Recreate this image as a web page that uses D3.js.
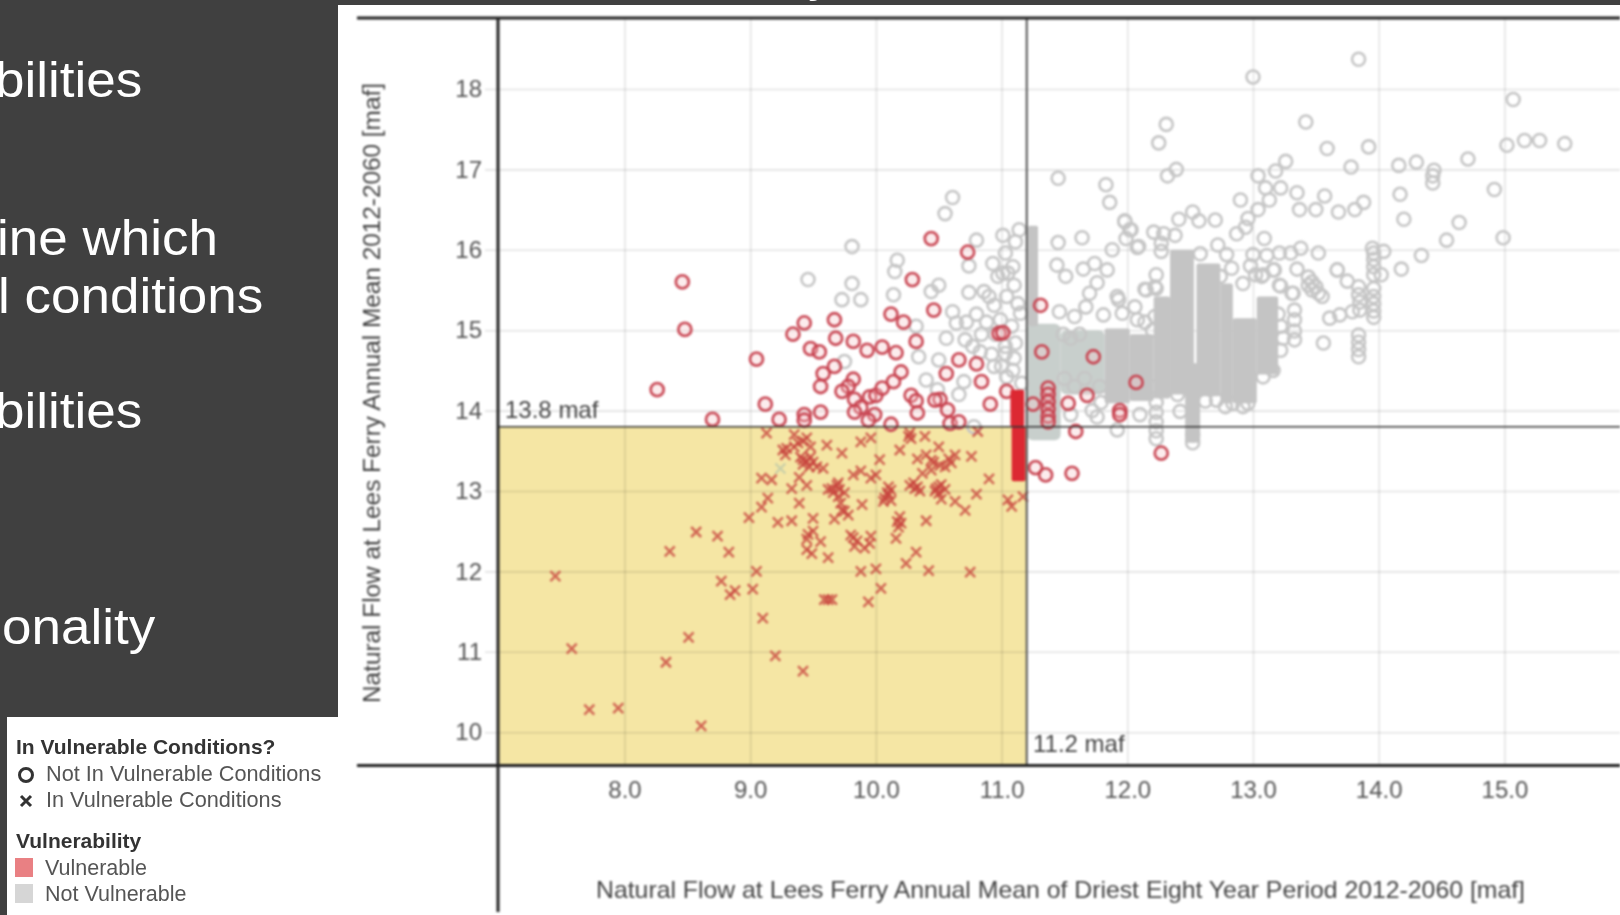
<!DOCTYPE html>
<html>
<head>
<meta charset="utf-8">
<script src="https://cdnjs.cloudflare.com/ajax/libs/d3/7.8.5/d3.min.js"></script>
<style>
  html, body { margin: 0; background: #fff; }
  text { font-family: "Liberation Sans", Arial, sans-serif; }
</style>
</head>
<body>
<svg id="chart" width="1620" height="915"></svg>
<script>
const xTicks = [8, 9, 10, 11, 12, 13, 14, 15];
const yTicks = [10, 11, 12, 13, 14, 15, 16, 17, 18];
const xThreshold = 11.2;
const yThreshold = 13.8;

// [flow in driest period, annual mean]
const vulnerableCrosses = [
  [7.45,11.94],[7.58,11.04],[7.72,10.28],[7.95,10.30],[8.61,10.08],[8.33,10.87],[8.51,11.18],[8.36,12.25],
  [8.57,12.49],[8.74,12.44],[8.83,12.24],[8.77,11.88],[8.88,11.76],[8.84,11.71],[9.02,11.78],[9.05,12.00],
  [9.10,11.42],[9.20,10.95],[9.42,10.76],[9.59,11.65],[9.62,11.65],[9.65,11.65],[9.94,11.62],[10.04,11.79],
  [9.88,12.00],[10.00,12.03],[10.24,12.10],[10.32,12.24],[10.42,12.01],[10.75,11.99],[8.99,12.67],[9.09,12.80],
  [9.14,12.91],[9.22,12.61],[9.33,12.63],[9.39,12.85],[9.50,12.66],[9.46,12.46],[9.56,12.37],[9.45,12.27],
  [9.49,12.22],[9.62,12.17],[9.80,12.45],[9.83,12.31],[9.91,12.29],[9.96,12.44],[9.67,12.65],[9.73,12.76],
  [9.78,12.70],[9.89,12.83],[10.16,12.41],[10.17,12.62],[10.19,12.68],[10.40,12.63],[10.07,12.91],[10.10,12.95],
  [10.50,12.97],[10.33,13.05],[10.27,13.07],[10.63,12.87],[10.71,12.76],[10.80,12.96],[10.90,13.15],[11.05,12.89],
  [11.08,12.81],[11.17,12.93],[9.09,13.16],[9.17,13.14],[9.33,13.03],[9.45,13.07],[9.39,13.17],[9.42,13.39],
  [9.45,13.37],[9.29,13.53],[9.26,13.51],[9.13,13.72],[9.35,13.70],[9.45,13.66],[9.58,13.28],[9.61,13.57],
  [9.73,13.47],[9.88,13.61],[9.96,13.66],[9.65,13.03],[9.69,13.07],[9.70,12.93],[9.82,13.20],[9.96,13.16],
  [10.03,13.39],[10.19,13.51],[10.26,13.68],[10.27,13.72],[10.28,13.65],[10.39,13.68],[10.50,13.55],[10.63,13.45],
  [10.76,13.43],[10.81,13.74],[10.31,13.03],[10.48,13.03],[10.37,13.22],[10.51,13.32],[10.44,13.26],[10.12,13.01],
  [9.48,13.42],[9.50,13.36],[9.53,13.30],[9.71,13.02],[9.75,12.98],[10.10,13.05],[10.52,13.08],[10.55,13.02],
  [10.46,13.36],[10.58,13.40],[9.35,13.55],[9.42,13.62],[9.48,13.55],[9.42,13.33],[9.40,13.42],[9.47,13.30],
  [9.62,13.02],[9.66,12.98],[9.72,12.85],[9.75,12.75],[10.06,12.87],[10.09,12.98],[10.12,12.88],[10.30,13.10],
  [10.35,13.00],[10.50,13.05],[10.52,12.90],[10.47,13.00],[10.18,12.55],[10.20,12.60],[9.45,12.40],[9.50,12.50],
  [9.85,12.38],[9.82,12.42],[9.95,12.35],[10.55,13.30],[10.60,13.35],[10.33,13.40],[10.40,13.45],[10.44,13.38],
  [9.38,13.60],[9.28,13.45],[9.88,13.25],[10.00,13.20],[9.70,13.10]
];

const grayCrosses = [[9.24,13.28]];

const vulnerableRings = [
  [8.46,15.60],[8.48,15.01],[8.26,14.26],[8.70,13.89],[9.05,14.64],[9.12,14.08],[9.23,13.89],[9.43,13.95],
  [9.43,13.88],[9.56,13.98],[9.43,15.09],[9.34,14.95],[9.48,14.77],[9.55,14.73],[9.67,15.13],[9.68,14.90],
  [9.82,14.86],[9.93,14.75],[10.05,14.79],[10.16,14.72],[10.12,15.20],[10.22,15.10],[10.32,14.86],[10.44,16.14],
  [10.73,15.97],[10.29,15.63],[10.46,15.25],[9.67,14.55],[9.58,14.46],[9.56,14.30],[9.82,14.39],[9.78,14.30],
  [9.73,14.24],[9.83,14.14],[9.88,14.04],[9.83,13.98],[9.95,14.17],[10.00,14.19],[10.05,14.28],[10.14,14.36],
  [10.20,14.48],[9.99,13.95],[9.94,13.88],[10.12,13.83],[10.28,14.19],[10.32,14.12],[10.33,13.97],[10.51,14.14],
  [10.47,14.13],[10.57,14.01],[10.59,13.84],[10.66,13.86],[10.56,14.46],[10.66,14.63],[10.80,14.58],[10.84,14.36],
  [10.91,14.08],[11.04,14.24],[10.98,14.96],[11.01,14.97],[11.25,14.08],[11.31,15.31],[11.32,14.73],[11.37,14.28],
  [11.37,14.20],[11.37,14.11],[11.37,14.02],[11.37,13.93],[11.37,13.86],[11.53,14.09],[11.68,14.19],[11.73,14.67],
  [12.07,14.35],[11.94,14.00],[11.94,13.95],[11.59,13.74],[12.27,13.47],[11.27,13.29],[11.35,13.20],[11.56,13.22]
];

const grayRings = [
  [13.84,18.37],[13.00,18.15],[15.07,17.87],[12.31,17.56],[12.25,17.33],[12.39,17.00],[12.32,16.92],[11.83,16.81],
  [11.86,16.59],[13.42,17.59],[13.59,17.26],[13.92,17.28],[13.78,17.03],[14.16,17.05],[14.30,17.09],[14.44,16.99],
  [14.43,16.83],[14.43,16.92],[14.71,17.13],[15.02,17.30],[15.16,17.36],[15.28,17.36],[15.48,17.32],[14.92,16.75],
  [14.17,16.69],[14.20,16.38],[14.99,16.15],[14.64,16.34],[14.54,16.12],[14.34,15.93],[14.18,15.76],[13.26,17.10],
  [13.18,16.98],[13.04,16.92],[13.22,16.77],[13.10,16.77],[13.13,16.62],[13.35,16.71],[13.57,16.67],[13.37,16.50],
  [13.50,16.50],[13.68,16.47],[13.81,16.50],[13.88,16.59],[12.90,16.62],[13.04,16.50],[12.96,16.39],[12.94,16.28],
  [12.87,16.20],[13.09,16.14],[12.52,16.47],[12.41,16.38],[12.57,16.36],[12.70,16.37],[11.98,16.36],[12.02,16.25],
  [11.99,16.14],[12.21,16.22],[12.29,16.20],[12.27,16.08],[12.38,16.18],[12.08,16.03],[11.88,16.00],[12.27,15.98],
  [12.58,15.95],[12.72,16.06],[12.79,15.94],[13.00,15.94],[13.11,15.93],[13.21,15.96],[13.30,15.96],[13.38,16.02],
  [13.52,15.96],[13.95,16.02],[14.04,15.98],[13.67,15.75],[13.75,15.61],[14.02,15.69],[13.96,15.79],[13.96,15.69],
  [13.96,15.52],[13.84,15.54],[13.84,15.44],[13.35,15.76],[12.83,15.77],[12.74,15.67],[12.92,15.58],[12.98,15.80],
  [13.02,15.69],[13.08,15.69],[13.16,15.75],[13.22,15.55],[12.23,15.69],[12.23,15.52],[12.14,15.51],[11.84,15.75],
  [13.31,15.46],[11.92,15.42],[13.44,15.66],[13.47,15.60],[13.50,15.54],[13.47,15.50],[13.52,15.46],[13.44,15.56],
  [13.55,15.42],[13.96,15.96],[13.96,15.88],[13.96,15.42],[13.96,15.33],[13.96,15.24],[13.96,15.16],[13.85,15.35],
  [13.85,15.25],[13.84,14.94],[13.84,14.85],[13.84,14.76],[13.84,14.67],[13.56,14.84],[13.33,15.25],[13.33,15.13],
  [13.33,14.99],[13.33,14.88],[13.32,15.46],[13.67,15.75],[13.79,15.23],[13.69,15.19],[13.61,15.15],[11.45,16.89],
  [11.45,16.09],[11.64,16.15],[11.98,16.35],[12.03,16.25],[12.09,16.04],[11.44,15.81],[11.51,15.67],[11.65,15.76],
  [11.74,15.83],[11.76,15.59],[11.70,15.46],[11.67,15.29],[11.46,15.23],[11.58,15.17],[11.81,15.19],[11.93,15.38],
  [12.06,15.29],[11.96,15.21],[12.08,15.13],[12.22,15.54],[12.15,15.50],[12.22,15.17],[13.07,15.67],[13.17,15.75],
  [13.21,15.56],[13.24,14.90],[13.08,14.42],[12.84,14.09],[12.96,14.09],[12.71,14.13],[12.42,13.99],[11.92,13.76],
  [11.76,13.92],[12.10,13.95],[10.61,16.65],[10.55,16.45],[9.81,16.04],[10.80,16.12],[11.01,16.18],[11.14,16.25],
  [11.11,16.10],[10.17,15.87],[10.15,15.73],[10.74,15.80],[10.93,15.83],[9.46,15.63],[9.81,15.58],[9.73,15.38],
  [9.88,15.38],[10.14,15.44],[10.50,15.56],[10.44,15.48],[10.74,15.47],[10.86,15.48],[10.90,15.42],[10.94,15.31],
  [10.97,15.67],[11.05,15.71],[11.10,15.56],[10.61,15.23],[10.64,15.09],[10.32,15.05],[10.56,14.90],[10.71,14.88],
  [10.34,14.67],[10.50,14.63],[10.40,14.38],[9.75,14.61],[10.70,14.36],[10.94,14.55],[10.77,14.80],[10.83,14.73],
  [11.03,14.71],[11.11,14.84],[11.13,15.33],[10.66,14.20],[10.78,13.80],[10.49,14.26],[11.03,15.96],[11.09,15.79],
  [11.01,15.71],[11.04,15.42],[10.99,15.13],[11.15,15.21],[11.03,14.80],[11.09,14.50],[11.00,14.55],[11.16,14.34],
  [11.04,14.42],[12.23,14.10],[12.23,13.98],[12.23,13.86],[12.23,13.75],[12.23,13.65],[12.52,13.70],[12.52,13.60],
  [11.49,14.95],[11.55,14.90],[11.62,14.95],[11.50,14.40],[11.58,14.30],[11.66,14.40],[11.78,14.30],[11.79,14.10],
  [11.72,14.00],[11.55,13.95],[12.14,15.10],[12.20,15.00],[13.20,15.20],[13.22,15.05],[13.22,14.75],[13.16,14.50],
  [12.62,14.12],[12.78,14.05],[12.92,14.05],[12.40,14.20],[12.19,14.30],[10.88,15.10],[10.95,14.95],[10.84,14.95],
  [10.92,14.70],[11.08,15.05],[11.10,14.65],[10.80,15.20],[10.72,15.10]
];

// columns where the rings overplot into solid colour
const denseX0 = [11.21, 11.82, 12.02, 12.21, 12.34, 12.46, 12.55, 12.74, 12.84, 13.03];
const denseX1 = [11.29, 12.02, 12.21, 12.34, 12.53, 12.58, 12.74, 12.84, 13.03, 13.20];
const denseLow = [15.05, 14.09, 14.12, 14.15, 14.20, 13.60, 14.18, 14.09, 14.09, 14.45];
const denseHigh = [16.30, 15.02, 14.95, 15.42, 16.00, 14.59, 15.83, 15.58, 15.15, 15.42];
const denseLightX0 = [11.20, 11.47];
const denseLightX1 = [11.47, 11.82];
const denseLightLow = [13.63, 14.20];
const denseLightHigh = [15.08, 15.00];
const denseRedX0 = [11.07, 11.08];
const denseRedX1 = [11.18, 11.19];
const denseRedLow = [13.80, 13.12];
const denseRedHigh = [14.26, 13.80];

const bodyLines = ["bilities", "ine which", "l conditions", "bilities", ".", "onality", "y"];
const legendShape = ["Not In Vulnerable Conditions", "In Vulnerable Conditions"];
const legendColor = ["Vulnerable", "Not Vulnerable"];

const svg = d3.select("#chart");

const x = d3.scaleLinear().domain([8, 15]).range([624.5, 1504.4]);
const y = d3.scaleLinear().domain([10, 18]).range([732.2, 89]);

// slide background
svg.append("rect").attr("x", 0).attr("y", 0).attr("width", 338).attr("height", 717).attr("fill", "#404040");
svg.append("rect").attr("x", 0).attr("y", 717).attr("width", 7).attr("height", 198).attr("fill", "#404040");
svg.append("rect").attr("x", 338).attr("y", 0).attr("width", 1282).attr("height", 5).attr("fill", "#404040");

const bodyX = [-5, -3, -2, -5, -10, 2, 808];
const bodyY = [97, 255, 313, 428, 575, 644, -9];
svg.append("g").selectAll("text").data(bodyLines).join("text")
  .attr("transform", (d, i) => `translate(${bodyX[i]},${bodyY[i]}) scale(1.06,1)`)
  .attr("fill", "#fff")
  .attr("font-size", 50)
  .text(d => d);

const plot = svg.append("g").style("filter", "blur(0.9px)");

// vulnerable box
plot.append("rect")
  .attr("x", 498)
  .attr("y", y(yThreshold))
  .attr("width", x(xThreshold) - 498)
  .attr("height", 765.6 - y(yThreshold))
  .attr("fill", "#f5e6a4");

// axes double as the grid
const xAxis = d3.axisBottom(x).tickValues(xTicks).tickFormat(d3.format(".1f")).tickSize(-747.6).tickPadding(15);
const yAxis = d3.axisLeft(y).tickValues(yTicks).tickSize(0).tickPadding(3);

const gx = plot.append("g").attr("transform", "translate(0,765.6)").call(xAxis);
const gy = plot.append("g").attr("transform", "translate(485,0)").call(yAxis);
gy.selectAll(".tick line").attr("x1", 0).attr("x2", 1135);
gy.select(".domain").remove();
gx.select(".domain").remove();
gx.selectAll(".tick line").attr("stroke", "#000").attr("stroke-opacity", 0.11).attr("stroke-width", 1.6);
gy.selectAll(".tick line").attr("stroke", "#000").attr("stroke-opacity", 0.11).attr("stroke-width", 1.6);
gx.selectAll("text").attr("font-size", 24).attr("font-family", "Liberation Sans").attr("fill", "#555");
gy.selectAll("text").attr("font-size", 24).attr("font-family", "Liberation Sans").attr("fill", "#555");

const denseRect = (sel, x0, x1, lo, hi, fill, rx) => sel.selectAll(null).data(x0).join("rect")
  .attr("x", (d, i) => x(x0[i]))
  .attr("y", (d, i) => y(hi[i]))
  .attr("width", (d, i) => x(x1[i]) - x(x0[i]))
  .attr("height", (d, i) => y(lo[i]) - y(hi[i]))
  .attr("rx", rx)
  .attr("fill", fill);

denseRect(plot.append("g"), denseLightX0, denseLightX1, denseLightLow, denseLightHigh, "#c8cfcc", 6);

plot.append("g").selectAll("circle").data(grayRings).join("circle")
  .attr("cx", d => x(d[0]))
  .attr("cy", d => y(d[1]))
  .attr("r", 6.5)
  .attr("fill", "none")
  .attr("stroke", "#c6c6c6")
  .attr("stroke-width", 2.6);

denseRect(plot.append("g"), denseX0, denseX1, denseLow, denseHigh, "#c4c4c4", 2);

const crossPath = "M-5,-5L5,5M-5,5L5,-5";
plot.append("g").selectAll("path").data(grayCrosses).join("path")
  .attr("transform", d => `translate(${x(d[0])},${y(d[1])})`)
  .attr("d", crossPath)
  .attr("fill", "none")
  .attr("stroke", "#c9cfa8")
  .attr("stroke-width", 2.4);

plot.append("g").selectAll("path").data(vulnerableCrosses).join("path")
  .attr("transform", d => `translate(${x(d[0])},${y(d[1])})`)
  .attr("d", crossPath)
  .attr("fill", "none")
  .attr("stroke", "#c8453f")
  .attr("stroke-opacity", 0.78)
  .attr("stroke-width", 2.5);

plot.append("g").selectAll("circle").data(vulnerableRings).join("circle")
  .attr("cx", d => x(d[0]))
  .attr("cy", d => y(d[1]))
  .attr("r", 6.5)
  .attr("fill", "#f6c9cc")
  .attr("fill-opacity", 0.35)
  .attr("stroke", "#c63f4c")
  .attr("stroke-opacity", 0.9)
  .attr("stroke-width", 2.8);

denseRect(plot.append("g"), denseRedX0, denseRedX1, denseRedLow, denseRedHigh, "#dc2832", 2);

// threshold lines and frame
plot.append("line").attr("x1", 498).attr("x2", 1620).attr("y1", y(yThreshold)).attr("y2", y(yThreshold))
  .attr("stroke", "#333").attr("stroke-width", 1.5);
plot.append("line").attr("x1", x(xThreshold)).attr("x2", x(xThreshold)).attr("y1", 18).attr("y2", 765)
  .attr("stroke", "#555").attr("stroke-width", 2);
plot.append("line").attr("x1", 357).attr("x2", 1620).attr("y1", 18).attr("y2", 18)
  .attr("stroke", "#222").attr("stroke-width", 3);
plot.append("line").attr("x1", 357).attr("x2", 1620).attr("y1", 765.6).attr("y2", 765.6)
  .attr("stroke", "#222").attr("stroke-width", 3);
plot.append("line").attr("x1", 498).attr("x2", 498).attr("y1", 18).attr("y2", 912)
  .attr("stroke", "#222").attr("stroke-width", 3);

plot.append("text").attr("x", 505).attr("y", 418).attr("font-size", 24).attr("fill", "#444").text("13.8 maf");
plot.append("text").attr("x", 1033).attr("y", 752).attr("font-size", 24).attr("fill", "#444").text("11.2 maf");

plot.append("text")
  .attr("x", 596).attr("y", 898)
  .attr("font-size", 24).attr("fill", "#444")
  .attr("textLength", 929).attr("lengthAdjust", "spacingAndGlyphs")
  .text("Natural Flow at Lees Ferry Annual Mean of Driest Eight Year Period 2012-2060 [maf]");
plot.append("text")
  .attr("transform", "translate(380,703) rotate(-90)")
  .attr("font-size", 23).attr("fill", "#444")
  .attr("textLength", 620).attr("lengthAdjust", "spacingAndGlyphs")
  .text("Natural Flow at Lees Ferry Annual Mean 2012-2060 [maf]");

// legend
const legend = svg.append("g").style("filter", "blur(0.4px)");
legend.append("text").attr("x", 16).attr("y", 754).attr("font-size", 21).attr("font-weight", "bold").attr("fill", "#333")
  .text("In Vulnerable Conditions?");
legend.append("text").attr("x", 16).attr("y", 848).attr("font-size", 21).attr("font-weight", "bold").attr("fill", "#333")
  .text("Vulnerability");
legend.selectAll(".shape").data(legendShape).join("text")
  .attr("class", "shape")
  .attr("x", 46)
  .attr("y", (d, i) => 781 + i * 26)
  .attr("font-size", 21.7)
  .attr("fill", "#555")
  .text(d => d);
legend.append("circle").attr("cx", 26).attr("cy", 775).attr("r", 6.5).attr("fill", "none").attr("stroke", "#333").attr("stroke-width", 3);
legend.append("path").attr("transform", "translate(26,801)").attr("d", crossPath).attr("fill", "none").attr("stroke", "#333").attr("stroke-width", 3);
legend.selectAll(".swatch").data(legendColor).join("rect")
  .attr("class", "swatch")
  .attr("x", 15)
  .attr("y", (d, i) => 858 + i * 26)
  .attr("width", 18)
  .attr("height", 19)
  .attr("fill", (d, i) => i ? "#d6d6d6" : "#e98083");
legend.selectAll(".colorLabel").data(legendColor).join("text")
  .attr("class", "colorLabel")
  .attr("x", 45)
  .attr("y", (d, i) => 875 + i * 26)
  .attr("font-size", 21.5)
  .attr("fill", "#555")
  .text(d => d);
</script>
</body>
</html>
